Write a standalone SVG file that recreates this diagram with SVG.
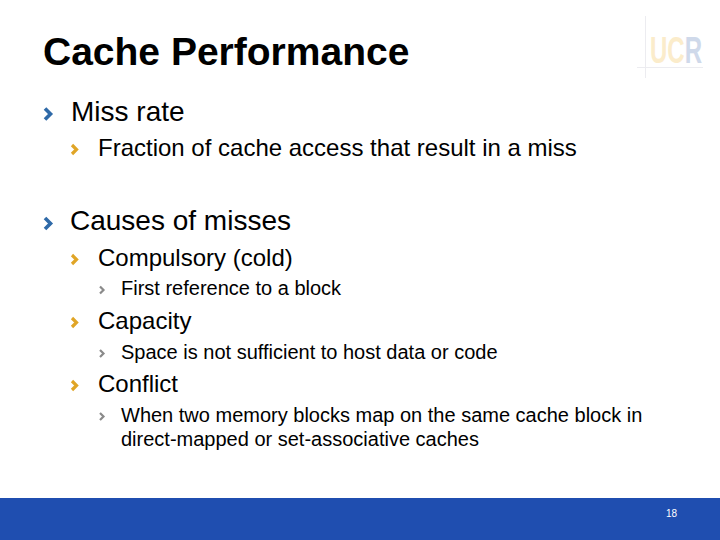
<svg xmlns="http://www.w3.org/2000/svg" width="720" height="540" viewBox="0 0 720 540">
<style>
text{font-family:"Liberation Sans",Arial,sans-serif;fill:#000}
.t1{font-size:28px}
.t2{font-size:24px}
.t3{font-size:20px}
.b1{fill:none;stroke:#2f6aa8;stroke-width:3.6}
.b2{fill:none;stroke:#e0a526;stroke-width:3.2}
.b3{fill:none;stroke:#8a8a8a;stroke-width:2.200}
</style>
<defs>
<path id="c1" class="b1" d="M0 0l5.500 5.500l-5.500 5.500"/>
<path id="c2" class="b2" d="M0 0l4.500 4.500l-4.500 4.500"/>
<path id="c3" class="b3" d="M0 0l3.500 3.500l-3.500 3.500"/>
</defs>
<rect width="720" height="540" fill="#fff"/>
<g id="logo">
<path d="M645.500 16V78M637 67.500H703" stroke="#ececf0" stroke-width="1" fill="none"/>
<text x="650" y="63" style="font-size:36px;font-weight:bold;fill:#fbeccb" textLength="52" lengthAdjust="spacingAndGlyphs">UC<tspan style="fill:#cfd9ea">R</tspan></text>
</g>
<text x="43" y="65" style="font-size:39px;font-weight:bold;fill:#000">Cache Performance</text>
<g id="miss-rate"><use href="#c1" x="45" y="108.500"/><text class="t1" x="71" y="121">Miss rate</text></g>
<g id="fraction"><use href="#c2" x="72" y="145"/><text class="t2" x="98" y="156">Fraction of cache access that result in a miss</text></g>
<g id="causes"><use href="#c1" x="45" y="218"/><text class="t1" x="70" y="230">Causes of misses</text></g>
<g id="compulsory"><use href="#c2" x="72" y="255"/><text class="t2" x="98" y="266">Compulsory (cold)</text></g>
<g id="first"><use href="#c3" x="100" y="286.500"/><text class="t3" x="121" y="295">First reference to a block</text></g>
<g id="capacity"><use href="#c2" x="72" y="318"/><text class="t2" x="98" y="329">Capacity</text></g>
<g id="space"><use href="#c3" x="100" y="350"/><text class="t3" x="121" y="359">Space is not sufficient to host data or code</text></g>
<g id="conflict"><use href="#c2" x="72" y="381"/><text class="t2" x="98" y="392">Conflict</text></g>
<g id="when"><use href="#c3" x="100" y="413"/><text class="t3" x="121" y="422">When two memory blocks map on the same cache block in</text><text class="t3" x="121" y="446">direct-mapped or set-associative caches</text></g>
<g id="footer"><rect x="0" y="498" width="720" height="42" fill="#1f4eb0"/><text x="671.500" y="517" text-anchor="middle" style="font-size:10px;fill:#fff">18</text></g>
</svg>
